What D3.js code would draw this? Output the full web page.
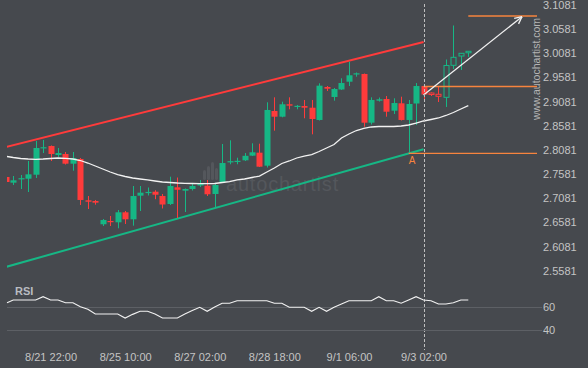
<!DOCTYPE html>
<html><head><meta charset="utf-8">
<script src="https://cdn.jsdelivr.net/npm/d3@7"></script>
<style>html,body{margin:0;padding:0;background:#46494e;overflow:hidden}</style>
</head><body><svg id="c" width="588" height="368"></svg>
<script>
// ---- data ----
const openP = [2.7521,2.7403,2.7488,2.7485,2.7568,2.8129,2.8162,2.7976,2.7997,2.7796,2.7893,2.7038,2.7024,2.6542,2.6610,2.6583,2.6790,2.6645,2.7134,2.7204,2.7216,2.7127,2.6962,2.7307,2.7237,2.7272,2.7345,2.7341,2.7169,2.7411,2.7837,2.7841,2.7866,2.7962,2.8024,2.7755,2.8887,2.8769,2.9026,2.8984,2.8990,2.8955,2.8701,2.9384,2.9177,2.9332,2.9493,2.9649,2.9653,2.8645,2.9100,2.9135,2.8893,2.9046,2.8701,2.9042,2.9404,2.9259,2.9233,2.9170,2.9833,3.0025,3.0094];
const highP = [2.7541,2.7541,2.7562,2.7852,2.8266,2.8287,2.8173,2.8121,2.8038,2.8038,2.7914,2.7127,2.7045,2.6651,2.6713,2.6837,2.6817,2.7334,2.7334,2.7303,2.7247,2.7169,2.7527,2.7510,2.7283,2.7390,2.7459,2.7459,2.7376,2.8204,2.8280,2.7920,2.8017,2.8218,2.8210,2.9067,2.9170,2.9079,2.9170,2.9011,2.9115,2.9115,2.9460,2.9404,2.9363,2.9564,2.9907,2.9684,2.9663,2.9170,2.9166,2.9197,2.9150,2.9183,2.9115,2.9466,2.9415,2.9270,2.9384,2.9953,3.0657,3.0087,3.0129];
const lowP = [2.7396,2.7355,2.7272,2.7210,2.7500,2.8017,2.7852,2.7935,2.7779,2.7651,2.6941,2.6858,2.6947,2.6506,2.6506,2.6459,2.6548,2.6513,2.6817,2.7138,2.7061,2.6869,2.6941,2.6672,2.6796,2.7241,2.7314,2.7127,2.6893,2.7396,2.7784,2.7784,2.7852,2.7955,2.7728,2.7717,2.8479,2.8756,2.8922,2.8922,2.8736,2.8404,2.8690,2.9301,2.9100,2.9322,2.9404,2.9597,2.8562,2.8607,2.9083,2.8769,2.8825,2.8690,2.8011,2.8597,2.9115,2.9197,2.9073,2.8970,2.9756,2.9736,3.0005];
const closeP = [2.7417,2.7452,2.7496,2.7576,2.8121,2.8137,2.7997,2.8017,2.7796,2.7914,2.7045,2.7009,2.6989,2.6630,2.6599,2.6790,2.6645,2.7127,2.7196,2.7212,2.7154,2.6951,2.7334,2.7256,2.7272,2.7334,2.7386,2.7163,2.7355,2.7810,2.7848,2.7856,2.7959,2.8032,2.7734,2.8908,2.8769,2.9026,2.8997,2.8994,2.8955,2.8721,2.9411,2.9348,2.9342,2.9466,2.9626,2.9667,2.8645,2.9115,2.9129,2.8872,2.9052,2.8701,2.9032,2.9404,2.9228,2.9239,2.9191,2.9829,2.9998,3.0081,3.0123];
const maP = [2.7949,2.7924,2.7904,2.7893,2.7887,2.7893,2.7904,2.7914,2.7908,2.7893,2.7862,2.7810,2.7748,2.7686,2.7624,2.7572,2.7531,2.7500,2.7479,2.7459,2.7438,2.7417,2.7407,2.7396,2.7390,2.7386,2.7382,2.7382,2.7386,2.7407,2.7427,2.7459,2.7479,2.7510,2.7541,2.7624,2.7707,2.7800,2.7852,2.7914,2.7955,2.7986,2.8048,2.8121,2.8193,2.8328,2.8411,2.8483,2.8525,2.8556,2.8566,2.8566,2.8566,2.8576,2.8597,2.8638,2.8680,2.8711,2.8742,2.8794,2.8856,2.8928,2.8997];
const rsiV = [63.4,65.7,65.7,65.7,65.7,68.5,65.7,65.7,63.4,63.4,60,57.8,53.8,53.8,53.8,53.8,50.4,53.5,56.1,56.1,53.8,50.4,50.4,50.4,53.8,56.8,59.5,56.1,59.7,62.9,62.9,65.1,65.1,65.1,65.1,65.1,62.9,62.9,59.5,59.5,59.5,56.1,59.5,56.1,59.5,62.3,65.1,65.1,65.1,65.1,68.5,65.1,65.1,62.9,65.7,68.5,65.7,65.1,62.3,62.3,63.4,65.7,65.7];
const firstHollow = 57;
const priceTicks = [3.1081,3.0581,3.0081,2.9581,2.9081,2.8581,2.8081,2.7581,2.7081,2.6581,2.6081,2.5581];
const rsiTicks = [60,40];
const tickSlots = [6,16,26,36,46,56];
const tickLabels = ["8/21 22:00","8/25 10:00","8/27 02:00","8/28 18:00","9/1 06:00","9/3 02:00"];
const upperChannel = [[0,2.8142],[56,3.0317]];
const lowerChannel = [[0,2.5658],[56,2.8096]];
const levels = [{slot:54,price:2.8011},{slot:56,price:2.9394},{slot:62,price:3.0853}];
const forecast = [[56,2.9218],[69.2,3.0839]];
const pointA = {slot:54,label:"A"};

// ---- layout ----
const W=588,H=368, plotL=7, plotR=537, axisX=543;
const BG="#46494e", GREEN="#16b785", RED="#ff3b3b", ORANGE="#f7843e";
const svg=d3.select("#c");
svg.append("rect").attr("width",W).attr("height",H).attr("fill",BG);
const x=d3.scaleLinear().domain([0,62]).range([5.8,468.3]);
const y=d3.scaleLinear().domain([2.5581,3.1081]).range([270.7,5]);
const yr=d3.scaleLinear().domain([40,60]).range([330.3,306.7]);

svg.append("clipPath").attr("id","clip").append("rect").attr("x",plotL).attr("y",0).attr("width",plotR-plotL).attr("height",282);
const g=svg.append("g").attr("clip-path","url(#clip)");

// watermark
const wm=g.append("g").attr("fill","#54575c");
[[0,10],[4,14],[8,18],[12,12]].forEach((b,i)=>{
  wm.append("rect").attr("x",203+i*4).attr("y",180-b[1]).attr("width",3).attr("height",b[1]).attr("rx",1.5);
});
wm.append("text").attr("x",226).attr("y",191).attr("font-family","Liberation Sans, Arial, sans-serif")
  .attr("font-size",20).attr("letter-spacing",0.8).text("autochartist");

const line=d3.line().x(d=>x(d[0])).y(d=>y(d[1]));
g.append("path").attr("d",line(upperChannel)).attr("stroke",RED).attr("stroke-width",2).attr("fill","none");
g.append("path").attr("d",line(lowerChannel)).attr("stroke",GREEN).attr("stroke-width",2).attr("fill","none");

// candles
const bw=5;
openP.forEach((o,i)=>{
  const c=closeP[i], up=c>=o, col=up?GREEN:RED, cx=Math.round(x(i))+0.5;
  const hollow=i>=firstHollow;
  const top=y(Math.max(o,c)), bot=y(Math.min(o,c));
  g.append("line").attr("x1",cx).attr("x2",cx).attr("y1",y(highP[i])).attr("y2",y(lowP[i])).attr("stroke",col).attr("stroke-width",1);
  if(hollow){
    g.append("rect").attr("x",cx-bw/2).attr("y",top).attr("width",bw).attr("height",Math.max(bot-top,1.5))
      .attr("fill",BG).attr("stroke",col).attr("stroke-width",1);
  } else {
    g.append("rect").attr("x",cx-bw/2-0.5).attr("y",top).attr("width",bw+1).attr("height",Math.max(bot-top,1.2)).attr("fill",col);
  }
});

// moving average
g.append("path").attr("d",d3.line().x((d,i)=>x(i)).y(d=>y(d))(maP)).attr("stroke","#f2f2f2").attr("stroke-width",1.3).attr("fill","none");

// levels
levels.forEach(l=>{
  g.append("line").attr("x1",x(l.slot)).attr("x2",plotR).attr("y1",y(l.price)).attr("y2",y(l.price)).attr("stroke",ORANGE).attr("stroke-width",1.3);
});
// forecast arrow
const a0=[x(forecast[0][0]),y(forecast[0][1])], a1=[x(forecast[1][0]),y(forecast[1][1])];
g.append("line").attr("x1",a0[0]).attr("y1",a0[1]).attr("x2",a1[0]).attr("y2",a1[1]).attr("stroke","#f2f2f2").attr("stroke-width",1.3);
const ang=Math.atan2(a1[1]-a0[1],a1[0]-a0[0]);
[0.45,-0.45].forEach(s=>{
  g.append("line").attr("x1",a1[0]).attr("y1",a1[1]).attr("x2",a1[0]-8*Math.cos(ang+s)).attr("y2",a1[1]-8*Math.sin(ang+s))
   .attr("stroke","#f2f2f2").attr("stroke-width",1.3);
});
svg.append("text").attr("x",x(pointA.slot)+3.5).attr("y",y(levels[0].price)+11).attr("text-anchor","middle")
  .attr("font-family","Liberation Sans, Arial, sans-serif").attr("font-size",10).attr("fill",ORANGE).text(pointA.label);

// dashed vertical
svg.append("line").attr("x1",Math.round(x(56))+0.5).attr("x2",Math.round(x(56))+0.5).attr("y1",4).attr("y2",350)
  .attr("stroke","#bfbfbf").attr("stroke-width",1).attr("stroke-dasharray","3,2");

// price axis
const ya=svg.append("g").attr("transform",`translate(${axisX},0)`)
  .call(d3.axisRight(y).tickValues(priceTicks).tickFormat(d3.format(".4f")).tickSize(0).tickPadding(0));
ya.select(".domain").remove();
ya.selectAll("text").attr("fill","#c4c4c4").attr("font-family","Liberation Sans, Arial, sans-serif").attr("font-size",11);

// vertical site text
svg.append("text").attr("transform","translate(540,69) rotate(-90)").attr("text-anchor","middle")
  .attr("font-family","Liberation Sans, Arial, sans-serif").attr("font-size",10.5).attr("fill","#b4b4b4").text("www.autochartist.com");

// RSI panel
rsiTicks.forEach(t=>{
  svg.append("line").attr("x1",plotL).attr("x2",axisX-1).attr("y1",Math.round(yr(t))+0.5).attr("y2",Math.round(yr(t))+0.5).attr("stroke","#5d6065").attr("stroke-width",1);
});
const ra=svg.append("g").attr("transform",`translate(${axisX},0)`)
  .call(d3.axisRight(yr).tickValues(rsiTicks).tickSize(0).tickPadding(0));
ra.select(".domain").remove();
ra.selectAll("text").attr("fill","#c4c4c4").attr("font-family","Liberation Sans, Arial, sans-serif").attr("font-size",11);
svg.append("text").attr("x",15).attr("y",295).attr("font-family","Liberation Sans, Arial, sans-serif").attr("font-weight","bold")
  .attr("font-size",11).attr("fill","#b9bcc1").text("RSI");
svg.append("path").attr("d",d3.line().x((d,i)=>Math.max(x(i),plotL)).y(d=>yr(d))(rsiV)).attr("stroke","#f2f2f2").attr("stroke-width",1.1).attr("fill","none");

// time axis
const xa=svg.append("g").attr("transform","translate(0,350)")
  .call(d3.axisBottom(x).tickValues(tickSlots).tickFormat((d,i)=>tickLabels[i]).tickSize(0).tickPadding(3));
xa.select(".domain").remove();
xa.selectAll("text").attr("fill","#c4c4c4").attr("font-family","Liberation Sans, Arial, sans-serif").attr("font-size",11);
</script></body></html>
